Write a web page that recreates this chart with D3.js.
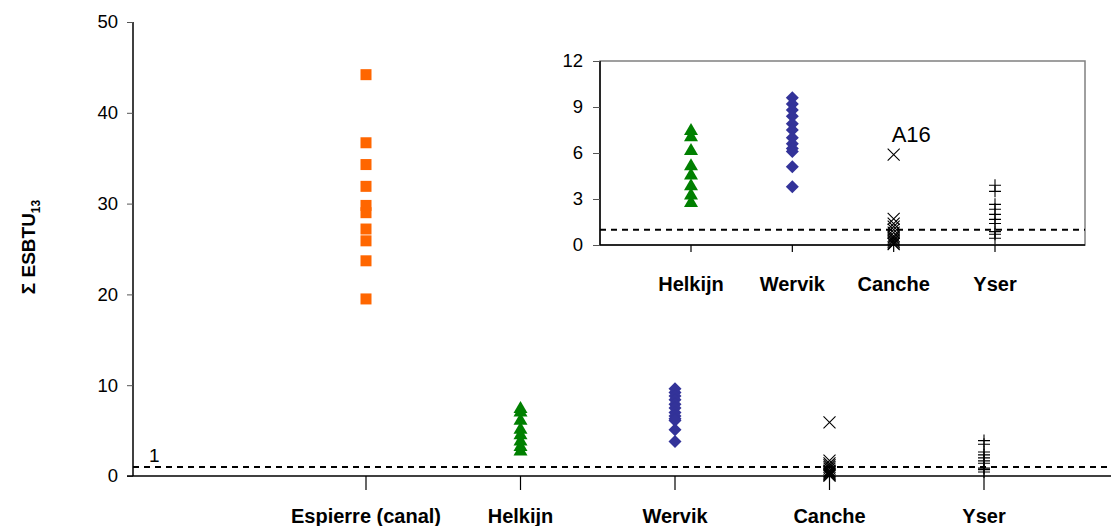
<!DOCTYPE html>
<html><head><meta charset="utf-8">
<script src="https://cdn.jsdelivr.net/npm/d3@7"></script>
<style>body{margin:0;background:#fff}svg{display:block;font-family:"Liberation Sans",Arial,sans-serif}</style>
</head><body>
<script>
const categories = ["Espierre (canal)", "Helkijn", "Wervik", "Canche", "Yser"];
const espierre = [44.2, 36.7, 34.3, 31.9, 29.8, 29.0, 27.2, 25.9, 23.7, 19.5];
const helkijn = [7.5, 7.1, 6.2, 5.2, 4.6, 3.9, 3.3, 2.8];
const wervik = [9.6, 9.2, 8.8, 8.4, 7.9, 7.5, 7.0, 6.6, 6.3, 6.1, 5.1, 3.8];
const canche = [5.9, 1.7, 1.4, 1.2, 1.0, 0.8, 0.6, 0.5, 0.4, 0.3, 0.2, 0.1, 0.05];
const yser = [3.9, 3.5, 2.65, 2.33, 2.0, 1.67, 1.4, 0.87, 0.7, 0.44];
const mainTicks = [0, 10, 20, 30, 40, 50];
const insetTicks = [0, 3, 6, 9, 12];
const threshold = 1;
const insetCategories = ["Helkijn", "Wervik", "Canche", "Yser"];
const annotation = {cat: "Canche", value: 5.9, text: "A16"};

const series = [
  {cat: "Espierre (canal)", values: espierre, type: "square", color: "#FF6600"},
  {cat: "Helkijn", values: helkijn, type: "triangle", color: "#008000"},
  {cat: "Wervik", values: wervik, type: "diamond", color: "#333399"},
  {cat: "Canche", values: canche, type: "x", color: "#000"},
  {cat: "Yser", values: yser, type: "plus", color: "#000"}
];

const W = 1111, H = 526;
const svg = d3.select("body").append("svg").attr("width", W).attr("height", H);

function drawMarker(g, type, color, x, y) {
  if (type === "square") {
    g.append("rect").attr("x", x - 5.5).attr("y", y - 5.5).attr("width", 11).attr("height", 11).attr("fill", color);
  } else if (type === "triangle") {
    g.append("path").attr("d", `M${x},${y-7}L${x+7},${y+5}L${x-7},${y+5}Z`).attr("fill", color);
  } else if (type === "diamond") {
    g.append("path").attr("d", `M${x},${y-6.5}L${x+6.5},${y}L${x},${y+6.5}L${x-6.5},${y}Z`).attr("fill", color);
  } else if (type === "x") {
    g.append("path").attr("d", `M${x-6},${y-6}L${x+6},${y+6}M${x+6},${y-6}L${x-6},${y+6}`).attr("stroke", color).attr("stroke-width", 1.1).attr("fill", "none");
  } else if (type === "plus") {
    g.append("path").attr("d", `M${x-6},${y}L${x+6},${y}M${x},${y-6}L${x},${y+6}`).attr("stroke", color).attr("stroke-width", 1.1).attr("fill", "none");
  }
}

// ---------- main chart ----------
const x0 = 133, yBase = 476, yTop = 22;
const xMain = d3.scaleLinear().domain([0, 4]).range([366, 984]);
const yMain = d3.scaleLinear().domain([0, 50]).range([yBase, yTop]);

const gMain = svg.append("g");
const yAx = gMain.append("g").attr("transform", `translate(${x0},0)`)
  .call(d3.axisLeft(yMain).tickValues(mainTicks).tickSize(6).tickPadding(9));
yAx.select(".domain").attr("stroke", "#000").attr("stroke-width", 1.5).attr("d", `M-0,${yTop}V${yBase}`);
yAx.selectAll(".tick line").attr("stroke", "#555");
yAx.selectAll(".tick text").attr("font-size", 18.5).attr("fill", "#000").attr("font-family", "Liberation Sans, Arial, sans-serif");

gMain.append("line").attr("x1", x0 - 6).attr("x2", W).attr("y1", yBase).attr("y2", yBase).attr("stroke", "#000").attr("stroke-width", 1.5);
categories.forEach((c, i) => {
  gMain.append("line").attr("x1", xMain(i)).attr("x2", xMain(i)).attr("y1", yBase).attr("y2", yBase + 14).attr("stroke", "#000").attr("stroke-width", 1.2);
  gMain.append("text").attr("x", xMain(i)).attr("y", 523).attr("text-anchor", "middle")
    .attr("font-size", 20).attr("font-weight", "bold").text(c);
});

gMain.append("line").attr("x1", x0).attr("x2", W).attr("y1", yMain(threshold)).attr("y2", yMain(threshold))
  .attr("stroke", "#000").attr("stroke-width", 2).attr("stroke-dasharray", "6,5");
gMain.append("text").attr("x", 149).attr("y", 462).attr("font-size", 19).text("1");

svg.append("text").attr("transform", `translate(35,247) rotate(-90)`).attr("text-anchor", "middle")
  .attr("font-size", 19).attr("font-weight", "bold")
  .html('Σ ESBTU<tspan font-size="12" dy="5">13</tspan>');

series.forEach(s => {
  const i = categories.indexOf(s.cat);
  s.values.forEach(v => drawMarker(gMain, s.type, s.color, xMain(i), yMain(v)));
});

// ---------- inset ----------
const ix0 = 600, ix1 = 1085, iyBase = 245, iyTop = 61;
const xIn = d3.scaleLinear().domain([0, 3]).range([691, 995]);
const yIn = d3.scaleLinear().domain([0, 12]).range([iyBase, iyTop]);
const gIn = svg.append("g");
gIn.append("rect").attr("x", ix0).attr("y", iyTop).attr("width", ix1 - ix0).attr("height", iyBase - iyTop)
  .attr("fill", "#fff").attr("stroke", "#808080").attr("stroke-width", 1.5);
const iyAx = gIn.append("g").attr("transform", `translate(${ix0},0)`)
  .call(d3.axisLeft(yIn).tickValues(insetTicks).tickSize(7).tickPadding(10));
iyAx.select(".domain").attr("stroke", "#000").attr("stroke-width", 1.5).attr("d", `M0,${iyTop}V${iyBase}`);
iyAx.selectAll(".tick line").attr("stroke", "#555");
iyAx.selectAll(".tick text").attr("font-size", 18.5).attr("fill", "#000").attr("font-family", "Liberation Sans, Arial, sans-serif");
gIn.append("line").attr("x1", ix0).attr("x2", ix1).attr("y1", iyBase).attr("y2", iyBase).attr("stroke", "#000").attr("stroke-width", 1.5);
insetCategories.forEach((c, i) => {
  gIn.append("line").attr("x1", xIn(i)).attr("x2", xIn(i)).attr("y1", iyBase).attr("y2", iyBase + 7).attr("stroke", "#000").attr("stroke-width", 1.2);
  gIn.append("text").attr("x", xIn(i)).attr("y", 291).attr("text-anchor", "middle")
    .attr("font-size", 20).attr("font-weight", "bold").text(c);
});
gIn.append("line").attr("x1", ix0).attr("x2", ix1).attr("y1", yIn(threshold)).attr("y2", yIn(threshold))
  .attr("stroke", "#000").attr("stroke-width", 2).attr("stroke-dasharray", "6,5");
series.forEach(s => {
  const i = insetCategories.indexOf(s.cat);
  if (i < 0) return;
  s.values.forEach(v => drawMarker(gIn, s.type, s.color, xIn(i), yIn(v)));
});
const ai = insetCategories.indexOf(annotation.cat);
gIn.append("text").attr("x", xIn(ai) - 2).attr("y", yIn(annotation.value) - 13).attr("font-size", 22).text(annotation.text);
</script>
</body></html>
